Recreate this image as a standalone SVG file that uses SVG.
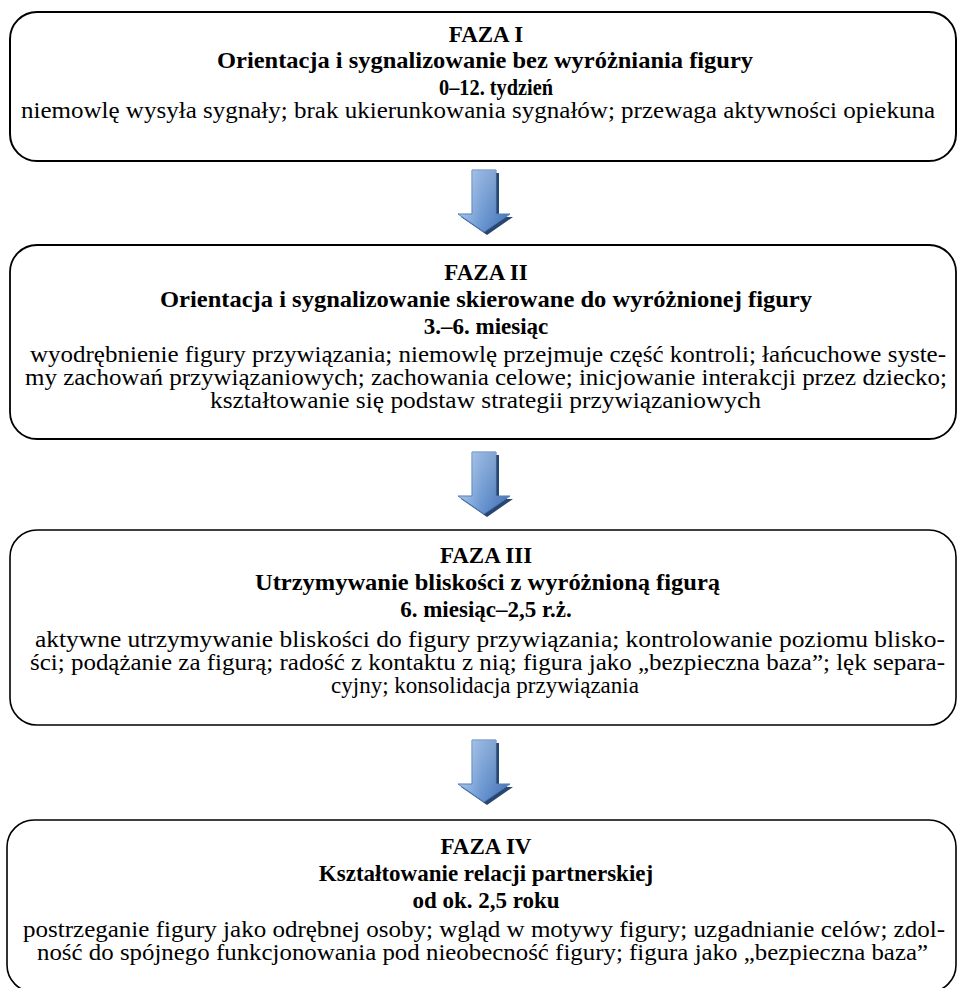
<svg xmlns="http://www.w3.org/2000/svg" xmlns:xlink="http://www.w3.org/1999/xlink" width="958" height="988" viewBox="0 0 958 988">
<defs>
<style>
.box{fill:#ffffff;stroke:#000000}
.h{font-family:"Liberation Serif","Times New Roman",serif;font-weight:bold;font-size:23px;fill:#000}
.b{font-family:"Liberation Serif","Times New Roman",serif;font-size:23px;fill:#000}
.c{text-anchor:middle}
</style>
<linearGradient id="ag" x1="0" y1="0" x2="1" y2="0">
<stop offset="0" stop-color="#a3c0e6"/>
<stop offset="0.45" stop-color="#6593d0"/>
<stop offset="1" stop-color="#3c6bad"/>
</linearGradient>
<linearGradient id="av" x1="0" y1="0" x2="0" y2="1">
<stop offset="0" stop-color="#ffffff" stop-opacity="0.3"/>
<stop offset="1" stop-color="#ffffff" stop-opacity="0"/>
</linearGradient>
<g id="arrow">
<path d="M0,0 H24 V44 H38 L12,62 L-14,44 H0 Z" transform="translate(3,3)" fill="#284670"/>
<path d="M0,0 H24 V44 H38 L12,62 L-14,44 H0 Z" fill="url(#ag)" stroke="#4a7ab8" stroke-width="1"/>
<path d="M0,0 H24 V44 H38 L12,62 L-14,44 H0 Z" fill="url(#av)"/>
</g>
</defs>
<rect width="958" height="988" fill="#ffffff"/>

<g id="connectors">
<use xlink:href="#arrow" href="#arrow" transform="translate(472,170)"/>
<use xlink:href="#arrow" href="#arrow" transform="translate(472,452)"/>
<use xlink:href="#arrow" href="#arrow" transform="translate(472,740)"/>
</g>

<g id="node-faza-1">
<rect class="box" x="10" y="12" width="946" height="149" rx="27" ry="27" stroke-width="2"/>
<text class="h c" x="486" y="42">FAZA I</text>
<text class="h" x="217" y="68" textLength="536" lengthAdjust="spacingAndGlyphs">Orientacja i sygnalizowanie bez wyróżniania figury</text>
<text class="h" x="439" y="95" textLength="114" lengthAdjust="spacingAndGlyphs">0–12. tydzień</text>
<text class="b" x="21" y="118" textLength="914" lengthAdjust="spacingAndGlyphs">niemowlę wysyła sygnały; brak ukierunkowania sygnałów; przewaga aktywności opiekuna</text>
</g>

<g id="node-faza-2">
<rect class="box" x="10" y="245" width="946" height="194" rx="27" ry="27" stroke-width="1.8"/>
<text class="h c" x="486" y="280">FAZA II</text>
<text class="h" x="160" y="307" textLength="652" lengthAdjust="spacingAndGlyphs">Orientacja i sygnalizowanie skierowane do wyróżnionej figury</text>
<text class="h c" x="486" y="334">3.–6. miesiąc</text>
<text class="b" x="30" y="362" textLength="916" lengthAdjust="spacingAndGlyphs">wyodrębnienie figury przywiązania; niemowlę przejmuje część kontroli; łańcuchowe syste-</text>
<text class="b" x="25" y="385" textLength="922" lengthAdjust="spacingAndGlyphs">my zachowań przywiązaniowych; zachowania celowe; inicjowanie interakcji przez dziecko;</text>
<text class="b" x="210" y="408" textLength="551" lengthAdjust="spacingAndGlyphs">kształtowanie się podstaw strategii przywiązaniowych</text>
</g>

<g id="node-faza-3">
<rect class="box" x="10" y="530" width="946" height="195" rx="27" ry="27" stroke-width="1.6"/>
<text class="h c" x="486" y="563">FAZA III</text>
<text class="h" x="255" y="590" textLength="465" lengthAdjust="spacingAndGlyphs">Utrzymywanie bliskości z wyróżnioną figurą</text>
<text class="h c" x="486" y="617">6. miesiąc–2,5 r.ż.</text>
<text class="b" x="35" y="647" textLength="910" lengthAdjust="spacingAndGlyphs">aktywne utrzymywanie bliskości do figury przywiązania; kontrolowanie poziomu blisko-</text>
<text class="b" x="30" y="670" textLength="915" lengthAdjust="spacingAndGlyphs">ści; podążanie za figurą; radość z kontaktu z nią; figura jako „bezpieczna baza”; lęk separa-</text>
<text class="b c" x="485" y="693">cyjny; konsolidacja przywiązania</text>
</g>

<g id="node-faza-4">
<rect class="box" x="7" y="820" width="949" height="172" rx="27" ry="27" stroke-width="1.6"/>
<text class="h c" x="486" y="854">FAZA IV</text>
<text class="h c" x="486" y="881">Kształtowanie relacji partnerskiej</text>
<text class="h c" x="486" y="908">od ok. 2,5 roku</text>
<text class="b" x="23" y="937" textLength="922" lengthAdjust="spacingAndGlyphs">postrzeganie figury jako odrębnej osoby; wgląd w motywy figury; uzgadnianie celów; zdol-</text>
<text class="b" x="37" y="960" textLength="891" lengthAdjust="spacingAndGlyphs">ność do spójnego funkcjonowania pod nieobecność figury; figura jako „bezpieczna baza”</text>
</g>
</svg>
